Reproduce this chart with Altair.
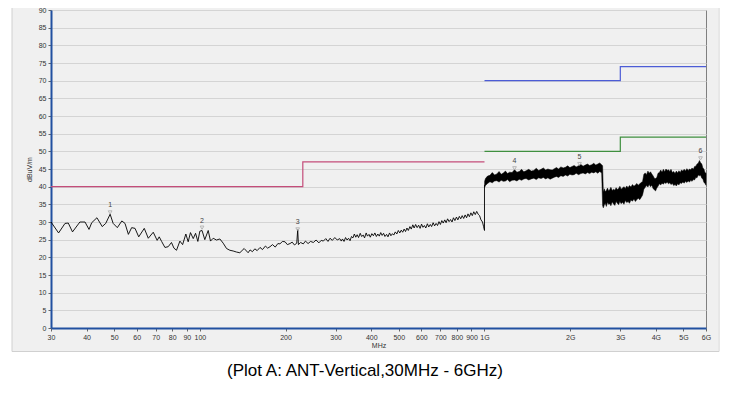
import altair as alt
import pandas as pd

# ---------------- measured trace, 30 - 304 MHz (MHz, dBuV/m) ----------------
lf_freq = [30.0, 31.9, 33.6, 34.5, 35.7, 37.9, 39.5, 40.8, 41.7, 43.5, 45.4, 46.7,
           48.4, 49.6, 51.3, 53.2, 54.6, 56.1, 57.6, 59.2, 61.0, 63.8, 65.9, 68.6,
           70.8, 72.0, 73.4, 75.4, 77.4, 79.5, 81.1, 82.8, 85.1, 87.0, 89.3, 91.0,
           92.7, 94.8, 96.6, 98.4, 100.0, 101.8, 104.1, 107.0, 109.0, 111.4, 114.4,
           117.6, 120.8, 124.1, 127.5, 130.9, 134.5, 138.2, 143.1, 147.8,
           150.1, 153, 156, 159, 162.7, 166, 170, 173, 176.4, 180, 184, 188, 191.2,
           195, 199.2, 203, 207.4, 211, 215, 219, 220.7, 222, 226, 230.9, 235, 240,
           245, 250.4, 256, 262, 267, 271.5, 277, 282, 286.6, 292, 298, 304]
lf_level = [30.0, 26.9, 29.6, 29.7, 27.2, 30.0, 30.0, 27.9, 29.8, 31.2, 28.7, 29.6,
            32.2, 29.6, 28.4, 30.3, 29.6, 26.5, 28.4, 28.2, 25.8, 28.2, 25.4, 27.1,
            24.8, 25.8, 24.5, 22.8, 23.0, 24.2, 22.6, 22.0, 24.6, 23.6, 26.6, 24.4,
            27.0, 25.3, 26.8, 24.5, 27.4, 27.6, 25.0, 27.6, 24.6, 25.4, 24.9,
            25.2, 24.0, 22.5, 22.0, 21.8, 21.5, 21.3, 22.5, 21.3,
            22.1, 21.6, 22.4, 21.9, 22.8, 22.2, 23.2, 22.6, 23.0, 23.6, 22.9, 23.9, 23.8,
            24.5, 24.4, 23.6, 23.9, 24.3, 23.5, 24.0, 27.8, 23.6, 24.2, 23.8, 24.6, 23.9,
            24.5, 24.2, 24.9, 24.1, 24.8, 24.6, 25.3, 24.5, 25.4, 24.8, 25.6, 24.9]

# ---------------- measured trace, 310 MHz - 1 GHz (jittery sweep) ----------------
mf_freq = [310, 314, 317, 321, 325, 329, 333, 337, 341, 345,
           349, 353, 357, 361, 366, 370, 375, 379, 384, 388,
           393, 397, 402, 407, 412, 417, 422, 427, 432, 437,
           442, 447, 453, 458, 464, 469, 475, 480, 486, 492,
           498, 504, 510, 516, 522, 528, 534, 540, 547, 553,
           560, 566, 573, 580, 587, 594, 601, 608, 615, 622,
           630, 637, 645, 652, 660, 668, 676, 684, 692, 700,
           708, 716, 725, 733, 742, 751, 760, 769, 778, 787,
           797, 806, 816, 825, 835, 845, 855, 865, 875, 885,
           896, 906, 917, 928, 939, 950, 961, 972, 984, 992,
           1000, 1000]
mf_level = [25.3, 24.6, 25.2, 24.5, 25.6, 24.9, 25.4, 24.7, 25.9, 25.5,
            26.6, 25.7, 26.4, 25.6, 26.8, 25.9, 26.3, 25.5, 26.9, 26.0,
            26.5, 25.7, 26.7, 26.1, 26.9, 25.9, 26.6, 26.0, 27.0, 26.2,
            26.8, 25.9, 26.5, 25.8, 26.9, 26.1, 26.7, 26.3, 27.2, 26.6,
            27.6, 26.9, 27.7, 27.1, 28.0, 27.3, 28.3, 27.6, 28.7, 28.0,
            29.2, 28.3, 29.3, 28.4, 29.1, 28.2, 29.4, 28.5, 29.0, 28.3,
            29.5, 28.6, 29.3, 28.7, 29.8, 28.9, 29.6, 29.0, 30.1, 29.3,
            30.4, 29.7, 30.6, 29.8, 30.9, 30.1, 30.7, 30.0, 31.2, 30.4,
            31.4, 30.6, 31.6, 30.9, 31.8, 31.0, 32.0, 31.2, 32.3, 31.5,
            32.6, 31.8, 32.9, 32.1, 33.0, 32.2, 31.8, 30.6, 30.0, 28.8,
            27.6, 40.5]

# ---------------- measured trace, 1 - 6 GHz (dense sweep: min / max envelope) ----------------
hf_freq = [1001, 1008, 1025, 1045, 1065, 1085, 1105, 1125, 1145, 1165,
           1185, 1205, 1225, 1250, 1275, 1300, 1325, 1350, 1375, 1400,
           1430, 1460, 1490, 1520, 1550, 1580, 1610, 1640, 1670, 1700,
           1730, 1760, 1790, 1820, 1855, 1890, 1925, 1960, 1995, 2030,
           2065, 2100, 2140, 2180, 2220, 2260, 2300, 2340, 2380, 2420,
           2460, 2500, 2540, 2580, 2600,
           2615, 2635, 2655, 2680, 2705, 2730, 2755, 2780, 2810, 2840,
           2870, 2900, 2930, 2960, 2990, 3020, 3055, 3090, 3125, 3160,
           3195, 3230, 3270, 3310, 3350, 3390, 3430, 3470, 3510, 3550,
           3590, 3630,
           3670, 3710, 3750, 3790, 3830, 3870, 3910, 3950, 3990, 4030,
           4070, 4115, 4160, 4205, 4250, 4295, 4340, 4385, 4430, 4475,
           4520, 4570, 4620, 4670, 4720, 4770, 4820, 4870, 4920, 4975,
           5030, 5085, 5140, 5195, 5250, 5305, 5360, 5415, 5470, 5525,
           5580, 5635, 5690, 5745, 5800, 5850, 5900, 5950, 6000]
hf_low = [39.8, 40.3, 40.9, 41.4, 41.1, 41.6, 41.7, 41.3, 41.8, 41.5,
          41.6, 42.0, 41.4, 41.8, 41.9, 41.6, 42.1, 41.8, 42.2, 42.3,
          41.9, 42.2, 42.4, 42.0, 42.5, 42.3, 42.6, 42.2, 42.5, 42.1,
          42.4, 42.7, 42.9, 42.6, 43.1, 42.9, 43.3, 43.0, 43.5, 43.3,
          43.4, 43.8, 43.4, 43.7, 43.9, 43.6, 44.0, 43.7, 44.1, 43.9,
          44.2, 43.8, 44.3, 43.9, 34.6,
          34.0, 34.8, 35.3, 34.4, 35.6, 35.0, 35.2, 34.6, 35.7, 35.1,
          34.7, 35.8, 35.3, 34.9, 35.9, 35.2, 35.6, 35.0, 36.1, 35.5,
          35.8, 35.3, 36.2, 35.9, 36.5, 35.8, 36.4, 36.7, 36.3, 36.9,
          37.6, 39.3,
          39.8, 40.3, 39.9, 40.6, 40.0, 40.4, 39.5, 39.1, 38.8, 39.6,
          40.1, 40.8, 40.5, 41.0, 40.7, 41.2, 40.9, 41.3, 40.8, 41.1,
          40.6, 40.9, 40.3, 40.6, 40.2, 40.8, 40.5, 41.1, 40.9, 41.3,
          41.0, 41.5, 41.2, 41.6, 41.3, 41.8, 41.5, 42.0, 41.9, 42.6,
          42.5, 43.3, 43.1, 43.2, 42.4, 42.2, 41.2, 41.0, 40.4]
hf_high = [41.5, 42.3, 43.0, 43.2, 44.0, 43.3, 43.6, 44.3, 43.5, 43.9,
           44.4, 43.7, 44.1, 44.0, 44.8, 44.1, 44.3, 44.9, 44.2, 44.5,
           44.9, 44.4, 44.6, 45.2, 44.6, 44.9, 45.3, 44.7, 45.0, 44.8,
           44.7, 45.1, 45.4, 45.0, 45.6, 45.3, 45.5, 45.9, 45.4, 45.7,
           46.0, 45.6, 45.9, 46.3, 45.8, 46.1, 46.4, 46.0, 46.2, 46.6,
           46.1, 46.4, 46.7, 46.2, 45.9,
           38.4, 39.4, 38.6, 38.9, 39.6, 38.8, 39.2, 39.8, 38.9, 39.3,
           39.0, 39.7, 39.2, 39.5, 40.1, 39.3, 39.6, 40.0, 39.5, 40.2,
           39.7, 40.3, 39.9, 40.6, 40.1, 40.5, 40.9, 40.4, 40.8, 41.2,
           41.4, 43.5,
           43.9, 43.4, 44.4, 43.8, 44.2, 43.6, 43.1, 42.4, 42.3, 42.6,
           43.8, 44.0, 44.7, 44.1, 44.9, 44.2, 45.0, 44.6, 44.8, 44.3,
           44.9, 44.0, 44.3, 43.7, 44.4, 43.9, 44.5, 44.0, 44.7, 44.4,
           44.9, 44.4, 45.1, 44.6, 45.0, 44.8, 45.3, 44.9, 45.7, 45.8,
           46.4, 46.6, 47.4, 46.8, 46.4, 45.3, 45.0, 44.0, 43.8]

# ---------------- limit lines ----------------
red_freq = [30, 230, 230, 1000]
red_level = [40, 40, 47, 47]
green_freq = [1000, 3000, 3000, 6000]
green_level = [50, 50, 54, 54]
blue_freq = [1000, 3000, 3000, 6000]
blue_level = [70, 70, 74, 74]

# ---------------- markers ----------------
marker_id = ["1", "2", "3", "4", "5", "6"]
marker_freq = [48.4, 101.8, 220.7, 1275, 2157, 5740]
marker_level = [32.7, 28.4, 27.9, 45.2, 46.4, 48.0]

# ---------------- axes ----------------
y_ticks = [0, 5, 10, 15, 20, 25, 30, 35, 40, 45, 50, 55, 60, 65, 70, 75, 80, 85, 90]
x_tick_values = [30, 40, 50, 60, 70, 80, 90, 100, 200, 300, 400, 500, 600, 700, 800,
                 900, 1000, 2000, 3000, 4000, 5000, 6000]
x_tick_labels = ["30", "40", "50", "60", "70", "80", "90", "100", "200", "300", "400",
                 "500", "600", "700", "800", "900", "1G", "2G", "3G", "4G", "5G", "6G"]
caption = "(Plot A: ANT-Vertical,30MHz - 6GHz)"

trace_freq = lf_freq + mf_freq
trace_level = lf_level + mf_level
line_df = pd.DataFrame({"freq": trace_freq, "level": trace_level,
                        "ord": list(range(len(trace_freq)))})
band_df = pd.DataFrame({"freq": hf_freq, "low": hf_low, "high": hf_high})
lim_rows = []
for name, fr, lv in [("red", red_freq, red_level), ("green", green_freq, green_level),
                     ("blue", blue_freq, blue_level)]:
    for i, (f, l) in enumerate(zip(fr, lv)):
        lim_rows.append({"freq": f, "level": l, "series": name, "ord": i})
lim_df = pd.DataFrame(lim_rows)
mk_df = pd.DataFrame({"freq": marker_freq, "level": marker_level, "id": marker_id})

label_expr = "".join(f"datum.value == {v} ? '{t}' : "
                     for v, t in zip(x_tick_values, x_tick_labels)) + "''"

FONT = "Liberation Sans"
AX_BLUE = "#2150a0"

x_axis = alt.Axis(values=x_tick_values, labelExpr=label_expr, title="MHz",
                  titleFontSize=7, titleFontWeight="normal", titleColor="#333333",
                  titleFont=FONT, titlePadding=1, labelFont=FONT, labelFontSize=7,
                  labelColor="#333333", labelPadding=2, labelOverlap=False,
                  labelFlush=False, tickSize=3, tickColor="#666666", domainColor=AX_BLUE,
                  domainWidth=2, grid=False)
y_axis = alt.Axis(values=y_ticks, title="dBuV/m", titleFontSize=7,
                  titleFontWeight="normal", titleColor="#333333", titleFont=FONT,
                  titlePadding=6, labelFont=FONT, labelFontSize=7, labelColor="#333333",
                  labelPadding=2, tickSize=3, tickColor="#666666", domainColor=AX_BLUE,
                  domainWidth=2, grid=True, gridColor="#d4d4d4", gridWidth=1)

xscale = alt.Scale(type="log", domain=[30, 6000], nice=False)
yscale = alt.Scale(domain=[0, 90], nice=False)
X = alt.X("freq:Q", scale=xscale, axis=x_axis)
Y = alt.Y("level:Q", scale=yscale, axis=y_axis)

lim_layer = alt.Chart(lim_df).mark_line(strokeWidth=1.2).encode(
    x=X, y=Y,
    color=alt.Color("series:N", scale=alt.Scale(domain=["red", "green", "blue"],
                    range=["#c44d7a", "#3f8f3f", "#4c5cd6"]), legend=None),
    order="ord:Q")

line_layer = alt.Chart(line_df).mark_line(color="black", strokeWidth=0.9).encode(
    x=X, y=Y, order="ord:Q")

band_layer = alt.Chart(band_df).mark_area(color="black", stroke="black",
                                          strokeWidth=0.5).encode(
    x=X, y=alt.Y("low:Q", scale=yscale, axis=y_axis), y2="high:Q")

mk_layer = alt.Chart(mk_df).mark_point(shape="triangle-down", size=14, filled=False,
                                       color="#a0a0a0", strokeWidth=1).encode(x=X, y=Y)
mk_text = alt.Chart(mk_df).mark_text(fontSize=7, font=FONT, color="#444444",
                                     dy=-7).encode(x=X, y=Y, text="id:N")

one = pd.DataFrame({"t": [caption]})
white_bottom = alt.Chart(one).mark_rect(color="white").encode(
    x=alt.value(-45), x2=alt.value(675), y=alt.value(342), y2=alt.value(380))
white_left = alt.Chart(one).mark_rect(color="white").encode(
    x=alt.value(-45), x2=alt.value(-39), y=alt.value(-5), y2=alt.value(380))
white_right = alt.Chart(one).mark_rect(color="white").encode(
    x=alt.value(667), x2=alt.value(675), y=alt.value(-5), y2=alt.value(380))
panel_edge = alt.Chart(one).mark_rect(fill=None, stroke="#d0d0d0", strokeWidth=1).encode(
    x=alt.value(-39), x2=alt.value(668), y=alt.value(-3), y2=alt.value(341.5))
cap_layer = alt.Chart(one).mark_text(fontSize=17, font=FONT, color="black",
                                     align="center", baseline="middle").encode(
    x=alt.value(314), y=alt.value(361), text="t:N")

chart = alt.layer(
    lim_layer, line_layer, band_layer, mk_layer, mk_text,
    white_bottom, white_left, white_right, panel_edge, cap_layer
).properties(
    width=655, height=318,
    autosize=alt.AutoSizeParams(type="none"),
    padding={"left": 43, "top": 2, "right": 16, "bottom": 55},
    background="#f0f0f0",
).configure_view(stroke="#808080", strokeWidth=1)

chart.save("out.html", embed_options={"renderer": "svg", "actions": False})
